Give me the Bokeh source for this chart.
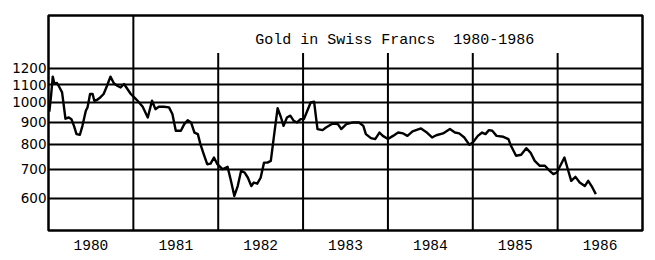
from bokeh.plotting import figure
from bokeh.models import Range1d, FixedTicker, Label
from bokeh.embed import file_html
from bokeh.resources import INLINE

# ---- data ----
t = [1980.01, 1980.03, 1980.05, 1980.07, 1980.10, 1980.13, 1980.16, 1980.20, 1980.24, 1980.27,
     1980.30, 1980.33, 1980.37, 1980.40, 1980.44, 1980.46, 1980.49, 1980.52, 1980.54, 1980.57,
     1980.61, 1980.65, 1980.69, 1980.73, 1980.77, 1980.81, 1980.85, 1980.89, 1980.93, 1980.97,
     1981.01, 1981.05, 1981.11, 1981.17, 1981.22, 1981.26, 1981.30, 1981.36, 1981.42, 1981.46,
     1981.50, 1981.56, 1981.60, 1981.64, 1981.68, 1981.72, 1981.76, 1981.79, 1981.83, 1981.87,
     1981.91, 1981.95, 1981.99, 1982.05, 1982.11, 1982.15, 1982.19, 1982.23, 1982.27, 1982.31,
     1982.35, 1982.39, 1982.42, 1982.46, 1982.50, 1982.54, 1982.58, 1982.62, 1982.66, 1982.70,
     1982.74, 1982.77, 1982.81, 1982.85, 1982.89, 1982.93, 1982.97, 1983.01, 1983.05, 1983.09,
     1983.13, 1983.15, 1983.17, 1983.23, 1983.27, 1983.35, 1983.41, 1983.45, 1983.51, 1983.59,
     1983.66, 1983.71, 1983.74, 1983.80, 1983.85, 1983.90, 1983.94, 1984.00, 1984.06, 1984.12,
     1984.18, 1984.23, 1984.29, 1984.39, 1984.45, 1984.52, 1984.57, 1984.65, 1984.73, 1984.79,
     1984.84, 1984.90, 1984.96, 1985.00, 1985.06, 1985.11, 1985.15, 1985.19, 1985.23, 1985.28,
     1985.36, 1985.42, 1985.45, 1985.51, 1985.57, 1985.63, 1985.68, 1985.73, 1985.79, 1985.85,
     1985.90, 1985.95, 1985.99, 1986.04, 1986.08, 1986.12, 1986.16, 1986.21, 1986.26, 1986.32,
     1986.36, 1986.40, 1986.45]

gold_chf = [952, 1036, 1147, 1105, 1109, 1083, 1055, 917, 923, 915,
            883, 845, 842, 883, 957, 974, 1046, 1046, 1009, 1013,
            1027, 1046, 1093, 1147, 1107, 1093, 1083, 1103, 1074, 1046,
            1027, 1009, 977, 923, 1009, 965, 977, 977, 974, 940,
            860, 860, 891, 910, 899, 852, 845, 801, 759, 720,
            722, 746, 720, 701, 710, 659, 608, 641, 695, 689,
            670, 641, 653, 649, 670, 726, 726, 733, 845, 970,
            923, 883, 923, 932, 907, 899, 915, 915, 957, 1000,
            1004, 932, 868, 863, 875, 894, 891, 868, 891, 899,
            899, 883, 845, 827, 823, 852, 837, 823, 837, 852,
            848, 837, 857, 871, 855, 830, 840, 848, 868, 852,
            848, 830, 798, 808, 837, 852, 845, 863, 860, 837,
            833, 823, 794, 753, 757, 784, 766, 733, 714, 714,
            697, 683, 689, 720, 746, 701, 659, 673, 653, 641,
            659, 641, 614]

y_ticks = [600, 700, 800, 900, 1000, 1100, 1200]
year_labels = [1980, 1981, 1982, 1983, 1984, 1985, 1986]
year_lines = [1981, 1982, 1983, 1984, 1985, 1986]
title_text = "Gold in Swiss Francs\u00a0\u00a01980-1986"

# ---- figure ----
Y0, Y1 = 506, 1588
p = figure(width=655, height=260, y_axis_type="log",
           x_range=Range1d(1980, 1987), y_range=Range1d(Y0, Y1),
           output_backend="svg", toolbar_location=None,
           min_border_left=48, min_border_right=13,
           min_border_top=15, min_border_bottom=30)
p.background_fill_color = "white"
p.border_fill_color = "white"
p.outline_line_color = "black"
p.outline_line_width = 2.5

# horizontal grid lines at the price levels
p.xgrid.visible = False
p.ygrid.ticker = FixedTicker(ticks=y_ticks)
p.ygrid.grid_line_color = "black"
p.ygrid.grid_line_width = 2
p.yaxis.ticker = FixedTicker(ticks=y_ticks)
p.yaxis.major_label_overrides = {v: str(v) for v in y_ticks}

# vertical year separators (the first reaches the top, the others stop below the title)
tops = [Y1] + [1300] * (len(year_lines) - 1)
p.segment(x0=year_lines, y0=[Y0] * len(year_lines), x1=year_lines, y1=tops,
          line_color="black", line_width=2)

# data line
p.line(t, gold_chf, line_color="black", line_width=2.4, line_join="round")

# axes
for ax in (p.xaxis, p.yaxis):
    ax.axis_line_color = None
    ax.major_tick_line_color = None
    ax.minor_tick_line_color = None
    ax.major_tick_out = 0
    ax.major_tick_in = 0
    ax.minor_tick_out = 0
    ax.minor_tick_in = 0
    ax.major_label_text_color = "black"

p.yaxis.major_label_standoff = 2
p.yaxis.major_label_text_font = "DejaVu Sans"
p.yaxis.major_label_text_font_size = "13.5px"

x_ticks = [y + 0.5 for y in year_labels]
p.xaxis.ticker = FixedTicker(ticks=x_ticks)
p.xaxis.major_label_overrides = {x: str(y) for x, y in zip(x_ticks, year_labels)}
p.xaxis.major_label_standoff = 9
p.xaxis.major_label_text_font = "Liberation Mono"
p.xaxis.major_label_text_font_size = "14.5px"

# title inside the frame
p.add_layout(Label(x=1984.08, y=1390, text=title_text, text_align="center",
                   text_baseline="middle", text_font="Liberation Mono",
                   text_font_size="15px", text_color="black"))

open("out.html", "w").write(file_html(p, INLINE))
